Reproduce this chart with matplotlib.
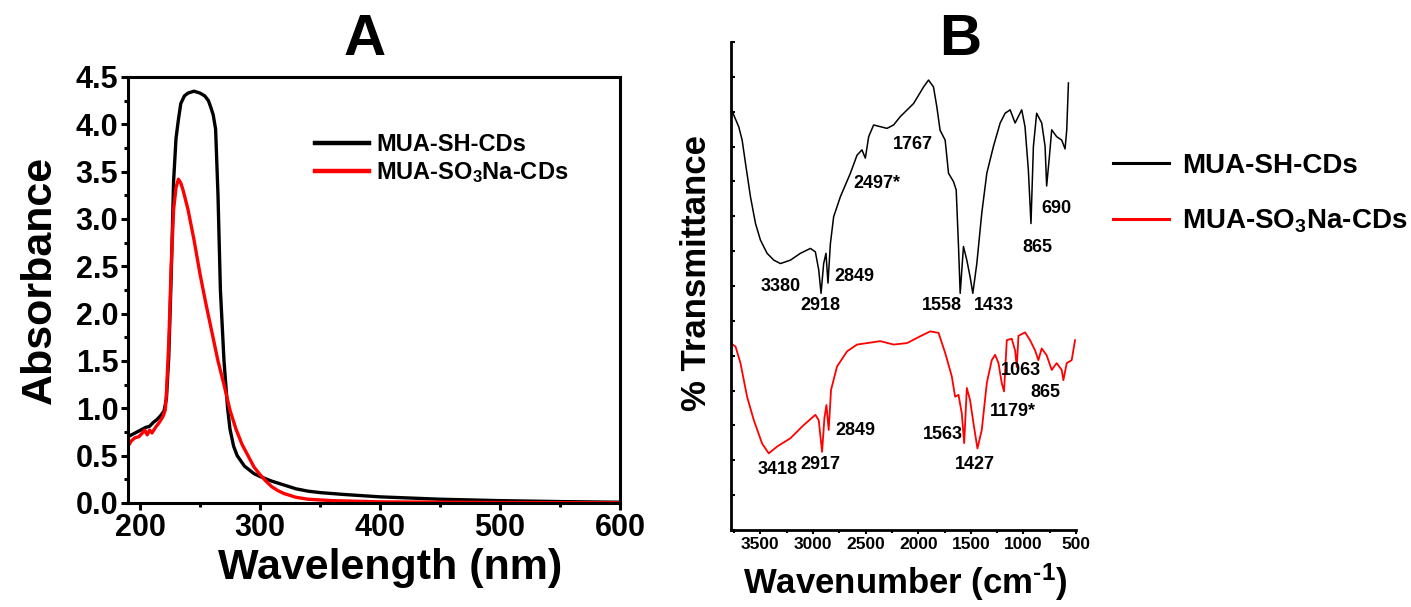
import matplotlib
matplotlib.use("Agg")
import matplotlib.pyplot as plt
from matplotlib.ticker import MultipleLocator
from matplotlib.lines import Line2D

plt.rcParams['font.family'] = ['Liberation Sans', 'DejaVu Sans']
plt.rcParams['font.weight'] = 'bold'
plt.rcParams['mathtext.fontset'] = 'custom'
plt.rcParams['mathtext.rm'] = 'Liberation Sans:bold'
plt.rcParams['mathtext.bf'] = 'Liberation Sans:bold'
plt.rcParams['mathtext.default'] = 'bf'

# ---------------- Panel A: UV-Vis ----------------
wl_sh = [190, 193, 196, 199, 202, 205, 208, 211, 214, 217, 220, 222, 224, 226, 228, 230,
         232, 234, 237, 240, 245, 250, 254, 257, 259, 261, 263, 265, 267, 270, 273, 275,
         278, 281, 287, 295, 300, 310, 320, 330, 340, 350, 370, 400, 450, 500, 550, 600]
abs_sh = [0.70, 0.72, 0.74, 0.76, 0.78, 0.80, 0.81, 0.85, 0.88, 0.92, 0.97, 1.10, 1.55, 2.40, 3.40, 3.85,
          4.05, 4.22, 4.30, 4.33, 4.35, 4.33, 4.30, 4.25, 4.18, 4.10, 3.95, 3.25, 2.25, 1.50, 1.00, 0.78,
          0.60, 0.50, 0.39, 0.31, 0.28, 0.23, 0.19, 0.15, 0.125, 0.11, 0.09, 0.065, 0.04, 0.025, 0.015, 0.008]

wl_so3 = [190, 193, 196, 199, 202, 204, 206, 208, 210, 213, 216, 219, 221, 222, 224, 226, 228, 230,
          232, 234, 236, 240, 245, 250, 255, 260, 265, 270, 275, 280, 285, 290, 295, 300, 305,
          310, 315, 320, 330, 340, 360, 400, 500, 600]
abs_so3 = [0.60, 0.66, 0.69, 0.70, 0.74, 0.77, 0.72, 0.77, 0.74, 0.80, 0.85, 0.91, 0.98, 1.15, 1.70, 2.50, 3.10, 3.33,
           3.42, 3.38, 3.30, 3.10, 2.78, 2.42, 2.10, 1.80, 1.50, 1.25, 0.98, 0.78, 0.62, 0.50, 0.38, 0.30, 0.23,
           0.17, 0.13, 0.10, 0.06, 0.04, 0.025, 0.012, 0.005, 0.002]

a_xticks = [200, 300, 400, 500, 600]
a_yticks = [0.0, 0.5, 1.0, 1.5, 2.0, 2.5, 3.0, 3.5, 4.0, 4.5]

# ---------------- Panel B: FTIR ----------------
wn_sh = [3775, 3753, 3706, 3674, 3642, 3595, 3547, 3500, 3437, 3373, 3310, 3215, 3120, 3025, 2978,
         2946, 2924, 2899, 2877, 2858, 2835, 2804, 2740, 2645, 2582, 2535, 2503, 2471, 2424, 2297,
         2234, 2171, 2044, 1949, 1902, 1855, 1823, 1792, 1744, 1712, 1665, 1639, 1617, 1601, 1570,
         1538, 1507, 1481, 1443, 1396, 1348, 1285, 1221, 1174, 1126, 1079, 1016, 985, 953, 928,
         905, 874, 826, 794, 779, 753, 731, 684, 636, 604, 588, 572]
t_sh = [86.1, 85.0, 82.6, 79.9, 75.1, 68.3, 62.8, 59.4, 56.7, 55.3, 54.6, 55.3, 56.7, 57.7, 57.0,
        53.3, 48.5, 54.6, 56.7, 50.6, 58.7, 64.2, 68.3, 73.1, 76.8, 77.9, 76.2, 80.6, 83.0, 82.3,
        83.0, 84.7, 87.4, 90.8, 92.2, 90.8, 86.7, 81.9, 79.9, 73.1, 71.4, 69.7, 58.1, 48.5, 58.1,
        55.3, 51.9, 48.5, 54.6, 64.9, 73.1, 78.6, 83.4, 85.4, 86.1, 83.4, 86.1, 82.7, 73.8, 62.8,
        78.6, 85.4, 83.4, 78.6, 70.5, 76.5, 82.0, 80.6, 79.9, 78.1, 82.0, 91.6]

wn_so3 = [3785, 3737, 3690, 3627, 3563, 3484, 3421, 3342, 3215, 3089, 2978, 2946, 2914, 2892, 2873,
          2851, 2829, 2772, 2677, 2582, 2487, 2361, 2234, 2107, 1981, 1886, 1807, 1744, 1681, 1649,
          1617, 1586, 1563, 1538, 1507, 1475, 1437, 1396, 1348, 1301, 1269, 1237, 1206, 1184, 1158,
          1111, 1079, 1063, 1047, 984, 937, 889, 858, 826, 779, 731, 684, 636, 620, 588, 541, 509]
t_so3 = [38.3, 37.6, 34.2, 27.3, 22.5, 17.7, 15.7, 17.1, 18.8, 21.5, 23.6, 22.5, 16.0, 22.9, 25.6,
         20.5, 28.7, 33.5, 36.6, 38.0, 38.3, 38.7, 38.0, 38.3, 39.7, 40.7, 40.4, 36.3, 31.5, 27.3,
         27.7, 23.9, 17.8, 29.1, 26.6, 21.9, 16.7, 20.5, 30.1, 34.8, 35.9, 34.2, 30.1, 28.4, 38.9,
         39.2, 36.8, 33.4, 39.8, 40.5, 38.9, 36.8, 34.8, 37.2, 35.8, 32.8, 34.2, 32.8, 30.7, 34.2, 34.8, 38.9]

b_xticks = [3500, 3000, 2500, 2000, 1500, 1000, 500]

peak_labels_sh = ["3380", "2918", "2849", "2497*", "1767", "1558", "1433", "865", "690"]
peak_pos_sh = [(3310, 49.9), (2930, 46.1), (2607, 52.0), (2392, 71.0), (2054, 78.9),
               (1775, 46.1), (1278, 46.1), (867, 57.9), (690, 65.9)]
peak_labels_so3 = ["3418", "2917", "2849", "1563", "1427", "1179*", "1063", "865"]
peak_pos_so3 = [(3335, 12.3), (2930, 13.5), (2598, 20.3), (1766, 19.5), (1459, 13.5),
                (1104, 24.2), (1022, 32.6), (794, 28.1)]

series_names = ["MUA-SH-CDs", r"MUA-SO$_3$Na-CDs"]
series_colors = ["#000000", "#ff0000"]

W, H = 1411, 607
fig = plt.figure(figsize=(W / 100, H / 100), dpi=100)

# ----- Panel A -----
axA = fig.add_axes([128 / W, (H - 503) / H, 492 / W, 426 / H])
axA.plot(wl_sh, abs_sh, color=series_colors[0], lw=2.4, label=series_names[0])
axA.plot(wl_so3, abs_so3, color=series_colors[1], lw=2.4, label=series_names[1])
axA.set_xlim(190, 600)
axA.set_ylim(0, 4.5)
axA.set_xticks(a_xticks)
axA.set_yticks(a_yticks)
axA.xaxis.set_minor_locator(MultipleLocator(50))
axA.yaxis.set_minor_locator(MultipleLocator(0.25))
axA.set_xticklabels([str(v) for v in a_xticks])
axA.set_yticklabels([f"{v:.1f}" for v in a_yticks])
for s in axA.spines.values():
    s.set_linewidth(2.2)
axA.tick_params(which='major', direction='out', length=5, width=2.2, labelsize=22, pad=2)
axA.tick_params(which='minor', direction='out', length=3, width=2.2)
for lab in axA.get_xticklabels() + axA.get_yticklabels():
    lab.set_fontweight('bold')
leg = axA.legend(loc='upper left', bbox_to_anchor=(0.36, 0.89), frameon=False, fontsize=17,
                 handlelength=2.3, handletextpad=0.3, labelspacing=0.15, borderaxespad=0)
for h in leg.get_lines():
    h.set_linewidth(3.2)
fig.text(365 / W, 1 - 40 / H, "A", fontsize=42, fontweight='bold', ha='center', va='center')
fig.text(40 / W, 1 - 280 / H, "Absorbance", fontsize=31, fontweight='bold', rotation=90,
         ha='center', va='center')
fig.text(390 / W, 1 - 568 / H, "Wavelength (nm)", fontsize=31, fontweight='bold',
         ha='center', va='center')

# ----- Panel B -----
axB = fig.add_axes([731 / W, (H - 530) / H, 345 / W, 488 / H])
axB.plot(wn_sh, t_sh, color=series_colors[0], lw=1.1)
axB.plot(wn_so3, t_so3, color=series_colors[1], lw=1.3)
axB.set_xlim(3780, 500)
axB.set_ylim(0, 100)
axB.set_xticks(b_xticks)
axB.set_xticklabels([str(v) for v in b_xticks])
axB.xaxis.set_minor_locator(MultipleLocator(250))
axB.yaxis.set_major_locator(MultipleLocator(100 / 14))
axB.set_yticklabels([])
axB.spines['top'].set_visible(False)
axB.spines['right'].set_visible(False)
axB.spines['left'].set_linewidth(2.0)
axB.spines['bottom'].set_linewidth(2.0)
axB.tick_params(axis='y', which='both', direction='in', length=3, width=1.5, left=True)
axB.tick_params(axis='x', which='major', direction='out', length=3, width=1.5, labelsize=12.5, pad=2)
axB.tick_params(axis='x', which='minor', direction='out', length=2, width=1.5)
for lab in axB.get_xticklabels():
    lab.set_fontweight('bold')
for txt, (x, y) in zip(peak_labels_sh, peak_pos_sh):
    axB.text(x, y, txt, fontsize=13, fontweight='bold', ha='center', va='center')
for txt, (x, y) in zip(peak_labels_so3, peak_pos_so3):
    axB.text(x, y, txt, fontsize=13, fontweight='bold', ha='center', va='center')

fig.text(960 / W, 1 - 40 / H, "B", fontsize=42, fontweight='bold', ha='center', va='center')
fig.text(697 / W, 1 - 273 / H, "% Transmittance", fontsize=25, fontweight='bold', rotation=90,
         ha='center', va='center')
fig.text(905 / W, 1 - 582 / H, r"Wavenumber (cm$^{\text{-1}}$)", fontsize=25, fontweight='bold',
         ha='center', va='center')

handles = [Line2D([], [], color=c, lw=2.2) for c in series_colors]
figleg = fig.legend(handles, series_names, loc='center left', bbox_to_anchor=(1113 / W, 1 - 194 / H),
                    frameon=False, fontsize=20, handlelength=2.0, handletextpad=0.5, labelspacing=1.05,
                    borderaxespad=0, borderpad=0)

fig.savefig("out.png", dpi=100)
